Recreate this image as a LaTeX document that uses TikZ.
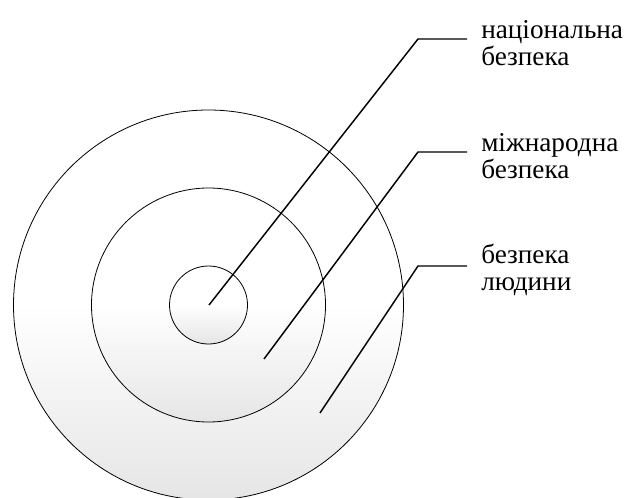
\documentclass[tikz,border=0pt]{standalone}
\usepackage{fontspec}
\setmainfont{Liberation Serif}
\newfontfamily\captionfont{Liberation Serif}
\usetikzlibrary{positioning}
\pgfdeclareverticalshading{ringfade}{100bp}{color(0bp)=(black!10); color(25bp)=(black!10); color(50bp)=(white); color(100bp)=(white)}
\tikzset{
  ring/.style={circle, draw=black, line width=0.6pt, inner sep=0pt,
    shade, shading=ringfade},
  leader/.style={line width=1.1pt},
  caption/.style={align=left, inner sep=0pt, yshift=-3pt,
    font=\captionfont\fontsize{20.4pt}{20.3pt}\selectfont}
}
\begin{document}
\begin{tikzpicture}[x=0.75pt,y=0.75pt]
\useasboundingbox (0,0) rectangle (624,497);
\coordinate (c) at (208.5,192);

% three nested areas
\node[ring, minimum size=292.5pt] (human) at (c) {};
\node[ring, minimum size=175.5pt] (intl) at (c) {};
\node[ring, minimum size=58.5pt] (nat) at (c) {};

% leader lines
\coordinate (p1) at (209,192);
\coordinate (b1) at (418,458);
\coordinate (e1) at (467,458);
\coordinate (p2) at (264,138);
\coordinate (b2) at (418,345);
\coordinate (e2) at (467,345);
\coordinate (p3) at (320,84);
\coordinate (b3) at (418,231);
\coordinate (e3) at (467,231);
\draw[leader] (p1) -- (b1) -- (e1);
\draw[leader] (p2) -- (b2) -- (e2);
\draw[leader] (p3) -- (b3) -- (e3);

\node[caption, right=10.5pt of e1] (natlbl) {національна\\безпека};
\node[caption, right=10.5pt of e2] (intllbl) {міжнародна\\безпека};
\node[caption, right=10.5pt of e3] (humanlbl) {безпека\\людини};
\end{tikzpicture}
\end{document}
